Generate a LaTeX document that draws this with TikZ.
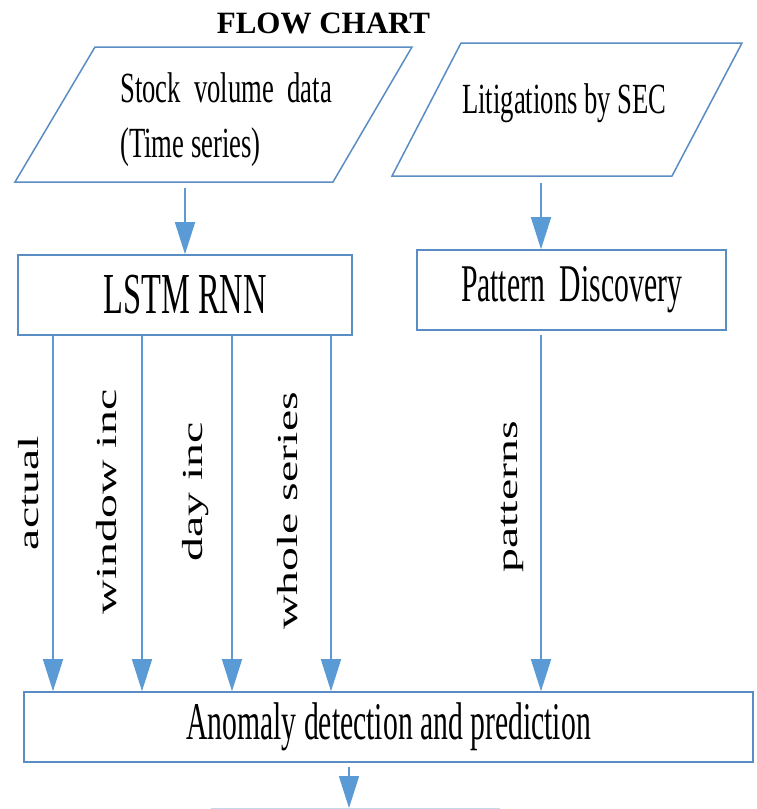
\documentclass[tikz,border=0pt]{standalone}
\usepackage{fontspec}
\setmainfont{Liberation Serif}
\newfontfamily\condfont[FakeStretch=0.62]{Liberation Serif}
\newfontfamily\boxfont[FakeStretch=0.56]{Liberation Serif}
\newfontfamily\widefont[FakeStretch=1.65]{Liberation Serif}
\usetikzlibrary{arrows.meta}
\definecolor{arrblue}{HTML}{5B9BD5}
\definecolor{boxblue}{HTML}{5A8DC4}
\begin{document}
\begin{tikzpicture}[x=1pt,y=-1pt,
  boxstyle/.style={draw=boxblue, line width=1.6pt, rectangle, inner sep=0pt},
  parastyle/.style={draw=boxblue, line width=1.5pt, line join=miter},
  paratext/.style={anchor=base west, inner sep=0pt, font=\condfont\fontsize{43}{43}\selectfont},
  arr/.style={draw=arrblue, line width=1.6pt, -{Triangle[length=32pt,width=20pt]}},
  lbl/.style={rotate=90, inner sep=0pt, font=\widefont\fontsize{29}{29}\selectfont}
]
\fill[white] (0,0) rectangle (757,809);
\useasboundingbox (0,0) rectangle (757,809);

% title
\node[anchor=base, inner sep=0pt, font=\bfseries\fontsize{31}{31}\selectfont] (title) at (323.5,33) {FLOW CHART};

% input parallelograms
\draw[parastyle] (15,182) -- (95,47) -- (412,47) -- (333,182) -- cycle;
\node[paratext] (stock1) at (120,102) {Stock\ \ volume\ \ data};
\node[paratext] (stock2) at (120,157) {(Time series)};
\draw[parastyle] (392,176) -- (461,43) -- (742,43) -- (672,176) -- cycle;
\node[paratext] (litig) at (462,113) {Litigations by SEC};

% process boxes
\node[boxstyle, minimum width=334pt, minimum height=80pt, font=\boxfont\fontsize{58}{58}\selectfont] (lstm) at (185,295) {\raisebox{-2pt}{LSTM RNN}};
\node[boxstyle, minimum width=309pt, minimum height=80pt, font=\boxfont\fontsize{53}{53}\selectfont] (pattern) at (571.5,290) {Pattern\ \ Discovery};
\node[boxstyle, minimum width=729pt, minimum height=70pt, font=\boxfont\fontsize{53}{53}\selectfont] (anom) at (388.5,727) {Anomaly detection and prediction};

% connector anchors
\coordinate (p1s) at (185,188);
\coordinate (p2s) at (541,183);
\coordinate (xa) at (53,0);
\coordinate (xb) at (142,0);
\coordinate (xc) at (232,0);
\coordinate (xd) at (331,0);
\coordinate (nextin) at (349,808);

% connectors
\draw[arr] (p1s) -- (lstm.north);
\draw[arr] (p2s) -- (pattern.north -| p2s);
\draw[arr] (lstm.south -| xa) -- (anom.north -| xa);
\draw[arr] (lstm.south -| xb) -- (anom.north -| xb);
\draw[arr] (lstm.south -| xc) -- (anom.north -| xc);
\draw[arr] (lstm.south -| xd) -- (anom.north -| xd);
\draw[arr, shorten <=4pt] (pattern.south -| p2s) -- (anom.north -| p2s);
\draw[arr, shorten <=4pt] (anom.south -| nextin) -- (nextin);

% edge labels
\node[lbl] (l1) at (29,493) {actual};
\node[lbl] (l2) at (107,502) {window inc};
\node[lbl] (l3) at (196,492) {day inc};
\node[lbl] (l4) at (288,511) {whole series};
\node[lbl] (l5) at (512,497) {patterns};

% top edge of the next (cut-off) box
\draw[draw=boxblue!35, line width=1pt] (211,808) -- (500,808);
\end{tikzpicture}
\end{document}
